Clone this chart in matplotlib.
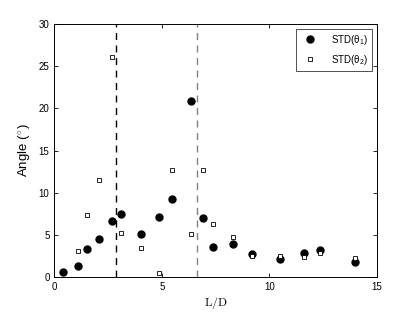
import matplotlib
matplotlib.use("Agg")
import matplotlib.pyplot as plt

x_ld = [0.42, 1.09, 1.52, 2.08, 2.67, 3.12, 4.05, 4.86, 5.48, 6.34, 6.90, 7.38, 8.33, 9.18, 10.49, 11.60, 12.35, 13.99]
std_theta1 = [0.55, 1.34, 3.3, 4.54, 6.6, 7.5, 5.05, 7.15, 9.3, 20.9, 7.0, 3.55, 3.9, 2.76, 2.1, 2.9, 3.2, 1.74]
x_ld2 = [1.09, 1.52, 2.08, 2.67, 3.12, 4.05, 4.86, 5.48, 6.34, 6.90, 7.38, 8.33, 9.18, 10.49, 11.60, 12.35, 13.99]
std_theta2 = [3.04, 7.34, 11.5, 26.05, 5.2, 3.4, 0.43, 12.67, 5.05, 12.67, 6.3, 4.78, 2.5, 2.45, 2.4, 2.9, 2.25]
vlines = [2.88, 6.62]
xticks = [0, 5, 10, 15]
yticks = [0, 5, 10, 15, 20, 25, 30]

plt.rcParams['font.family'] = ['Liberation Sans', 'DejaVu Sans']
plt.rcParams['mathtext.fontset'] = 'cm'

fig = plt.figure(figsize=(4.15, 3.13), dpi=100)
ax = fig.add_axes([0.131, 0.115, 0.777, 0.808])

ax.axvline(vlines[0], color='black', linestyle=(0, (5, 4)), linewidth=1.0)
ax.axvline(vlines[1], color='#808080', linestyle=(0, (5, 4)), linewidth=1.0)

ax.plot(x_ld, std_theta1, linestyle='none', marker='o', markersize=5, color='black',
        label=r'STD($\mathregular{\theta_1}$)')
ax.plot(x_ld2, std_theta2, linestyle='none', marker='s', markersize=3.5, markerfacecolor='white',
        markeredgecolor='black', markeredgewidth=0.6, label=r'STD($\mathregular{\theta_2}$)')

ax.set_xlim(0, 15)
ax.set_ylim(0, 30)
ax.set_xticks(xticks)
ax.set_yticks(yticks)
ax.tick_params(direction='in', top=True, right=True, labelsize=7, length=3, width=0.6)
for s in ax.spines.values():
    s.set_linewidth(0.7)

ax.set_xlabel(r'$\mathrm{L/D}$', fontsize=8.5, labelpad=2)
ax.set_ylabel(r'Angle ($^{\circ}$)', fontsize=9.5, labelpad=4)

leg = ax.legend(loc='upper right', fontsize=7, frameon=True, fancybox=False, edgecolor='black',
                borderaxespad=0.5, handletextpad=1.2, borderpad=0.4, labelspacing=0.6)
leg.get_frame().set_linewidth(0.6)

fig.savefig('out.png', dpi=100)
